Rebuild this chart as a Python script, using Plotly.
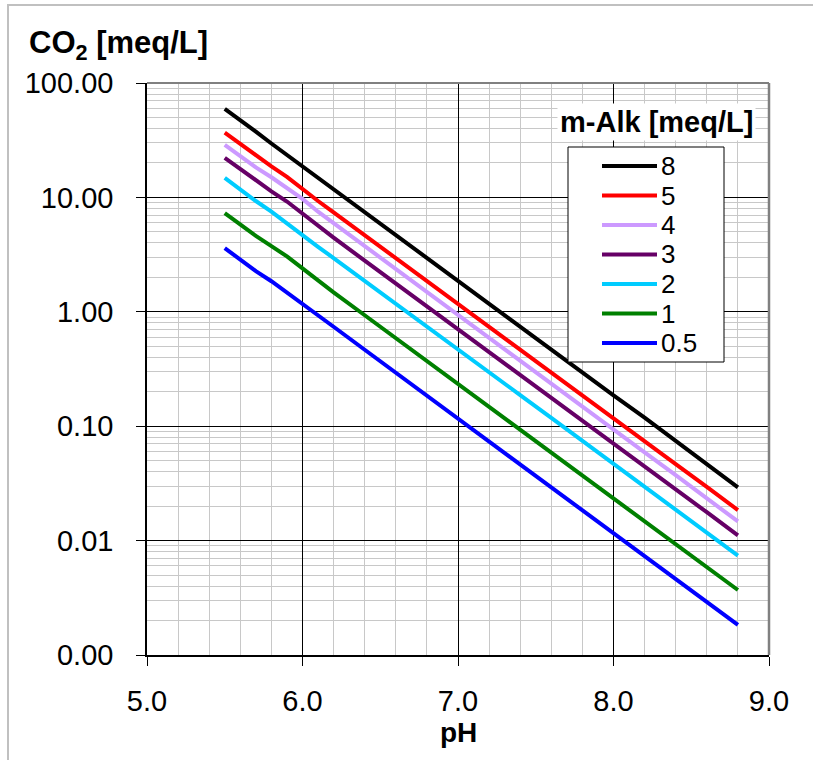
import plotly.graph_objects as go

# pH values of the calculated points
ph = [5.5, 5.6, 5.7, 5.8, 5.9, 6.0, 6.1, 6.2, 6.4, 6.6, 6.8, 7.0,
      7.2, 7.4, 7.6, 7.8, 8.0, 8.2, 8.4, 8.6, 8.8]

# free CO2 [meq/L] for each m-alkalinity
co2_alk_8 = [59.3, 47.5, 37.6, 29.6, 23.5, 18.8, 14.8, 11.8, 7.40, 4.65, 2.98, 1.86,
             1.17, 0.745, 0.470, 0.296, 0.186, 0.119, 0.0745, 0.0470, 0.0292]
co2_alk_5 = [36.8, 29.2, 23.0, 18.7, 15.1, 11.7, 9.3, 7.4, 4.66, 2.95, 1.85, 1.17,
             0.738, 0.466, 0.295, 0.186, 0.117, 0.0740, 0.0466, 0.0295, 0.0185]
co2_alk_4 = [28.8, 23.0, 18.3, 15.0, 12.1, 9.7, 7.5, 5.95, 3.74, 2.36, 1.49, 0.936,
             0.591, 0.373, 0.236, 0.149, 0.0935, 0.0590, 0.0373, 0.0235, 0.0147]
co2_alk_3 = [22.2, 17.7, 14.0, 11.3, 9.2, 7.2, 5.6, 4.45, 2.80, 1.77, 1.12, 0.702,
             0.443, 0.280, 0.177, 0.112, 0.0702, 0.0443, 0.0280, 0.0177, 0.0111]
co2_alk_2 = [14.8, 11.7, 9.3, 7.5, 5.9, 4.6, 3.7, 2.95, 1.87, 1.18, 0.745, 0.468,
             0.296, 0.187, 0.118, 0.0745, 0.0468, 0.0296, 0.0187, 0.0118, 0.0074]
co2_alk_1 = [7.3, 5.8, 4.6, 3.75, 3.05, 2.40, 1.87, 1.48, 0.933, 0.589, 0.372, 0.234,
             0.148, 0.0933, 0.0589, 0.0372, 0.0234, 0.0148, 0.00933, 0.00589, 0.0037]
co2_alk_05 = [3.6, 2.86, 2.27, 1.85, 1.48, 1.18, 0.93, 0.74, 0.466, 0.294, 0.186, 0.117,
              0.074, 0.0466, 0.0294, 0.0186, 0.0117, 0.0074, 0.0047, 0.00294, 0.00183]

series_names = ["8", "5", "4", "3", "2", "1", "0.5"]
series_values = [co2_alk_8, co2_alk_5, co2_alk_4, co2_alk_3, co2_alk_2, co2_alk_1, co2_alk_05]
series_colors = ["#000000", "#FF0000", "#CC99FF", "#660066", "#00CCFF", "#008000", "#0000FF"]

x_ticks = [5, 6, 7, 8, 9]
x_ticktext = ["5.0", "6.0", "7.0", "8.0", "9.0"]
y_ticks = [0.001, 0.01, 0.1, 1, 10, 100]
y_ticktext = ["0.00", "0.01", "0.10", "1.00", "10.00", "100.00"]

FONT = "Liberation Sans, Arial, sans-serif"
W, H = 813, 760
ML, MR, MT, MB = 147, 44, 83, 105
PW, PH = W - ML - MR, H - MT - MB


def px_x(px):
    return (px - ML) / PW


def px_y(py):
    return (H - MB - py) / PH


fig = go.Figure()
for name, vals, color in zip(series_names, series_values, series_colors):
    fig.add_trace(go.Scatter(x=ph, y=vals, mode="lines", name=name,
                             line=dict(color=color, width=4), showlegend=False))

minor_y = [k * 10.0 ** e for e in range(-3, 2) for k in range(2, 10)]

fig.update_xaxes(
    range=[5, 9], tickvals=x_ticks, ticktext=x_ticktext,
    showgrid=True, gridcolor="#000000", gridwidth=1,
    minor=dict(dtick=0.2, tick0=5, showgrid=True, gridcolor="#c8c8c8", gridwidth=1),
    ticks="outside", ticklen=9, tickcolor="#000000", tickwidth=1,
    showline=True, linecolor="#000000", linewidth=1.5, zeroline=False,
    tickfont=dict(family=FONT, size=29, color="#000000"), ticklabelstandoff=10,
)
fig.update_yaxes(
    type="log", range=[-3, 2], tickvals=y_ticks, ticktext=y_ticktext,
    showgrid=True, gridcolor="#000000", gridwidth=1,
    minor=dict(tickvals=minor_y, showgrid=True, gridcolor="#c8c8c8", gridwidth=1),
    ticks="outside", ticklen=9, tickcolor="#000000", tickwidth=1,
    showline=True, linecolor="#000000", linewidth=1.5, zeroline=False,
    tickfont=dict(family=FONT, size=29, color="#000000"), ticklabelstandoff=17,
)

shapes = []
# outer chart frame
shapes.append(dict(type="rect", xref="paper", yref="paper",
                   x0=px_x(8), x1=px_x(830), y0=px_y(780), y1=px_y(5),
                   line=dict(color="#c0c0c0", width=2), fillcolor="rgba(0,0,0,0)", layer="above"))
# grey top and right border of the plot area
shapes.append(dict(type="line", xref="paper", yref="paper", x0=0, x1=1, y0=1, y1=1,
                   line=dict(color="#808080", width=2)))
shapes.append(dict(type="line", xref="paper", yref="paper", x0=1, x1=1, y0=0, y1=1,
                   line=dict(color="#808080", width=2.5)))

# legend box
shapes.append(dict(type="rect", xref="paper", yref="paper",
                   x0=px_x(568), x1=px_x(724), y0=px_y(362), y1=px_y(147),
                   line=dict(color="#000000", width=1), fillcolor="#ffffff", layer="above"))

annotations = []
row0, row_step = 166, 29.5
for i, (name, color) in enumerate(zip(series_names, series_colors)):
    yy = px_y(row0 + i * row_step)
    shapes.append(dict(type="line", xref="paper", yref="paper",
                       x0=px_x(602), x1=px_x(657), y0=yy, y1=yy,
                       line=dict(color=color, width=4), layer="above"))
    annotations.append(dict(xref="paper", yref="paper", x=px_x(659), y=yy,
                            text=name, showarrow=False, xanchor="left", yanchor="middle",
                            font=dict(family=FONT, size=26, color="#000000")))

annotations.append(dict(xref="paper", yref="paper", x=px_x(656), y=px_y(122),
                        text="<b>m-Alk [meq/L]</b>", showarrow=False,
                        xanchor="center", yanchor="middle", bgcolor="#ffffff", borderpad=2,
                        font=dict(family=FONT, size=29, color="#000000")))
annotations.append(dict(xref="paper", yref="paper", x=px_x(27), y=px_y(45),
                        text="<b>CO<sub>2</sub> [meq/L]</b>", showarrow=False,
                        xanchor="left", yanchor="middle",
                        font=dict(family=FONT, size=31, color="#000000")))
annotations.append(dict(xref="paper", yref="paper", x=0.5, y=px_y(732),
                        text="<b>pH</b>", showarrow=False,
                        xanchor="center", yanchor="middle",
                        font=dict(family=FONT, size=28, color="#000000")))

fig.update_layout(
    width=W, height=H,
    margin=dict(l=ML, r=MR, t=MT, b=MB),
    paper_bgcolor="#ffffff", plot_bgcolor="#ffffff",
    showlegend=False, shapes=shapes, annotations=annotations,
    font=dict(family=FONT, color="#000000"),
)

fig.write_html("out.html")
